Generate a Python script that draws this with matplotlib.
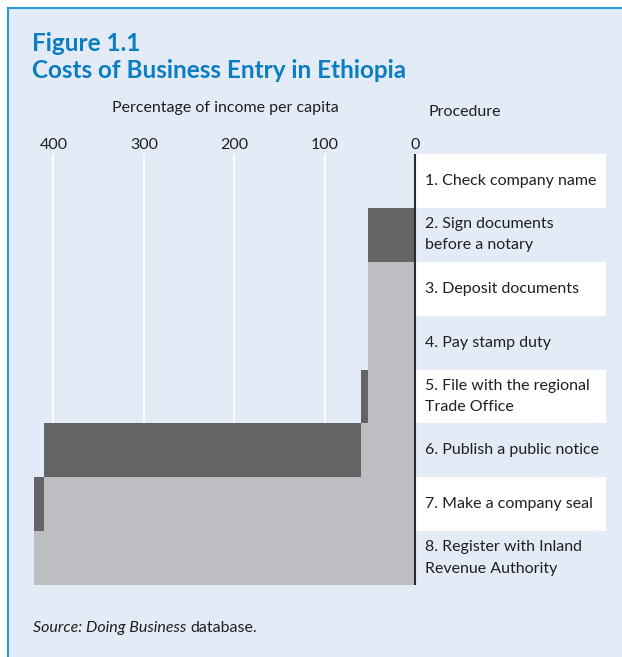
import matplotlib
matplotlib.use("Agg")
import matplotlib.pyplot as plt
from matplotlib.patches import Rectangle
from matplotlib.lines import Line2D

# ---- data ----
procedures = [
    "1. Check company name",
    "2. Sign documents\nbefore a notary",
    "3. Deposit documents",
    "4. Pay stamp duty",
    "5. File with the regional\nTrade Office",
    "6. Publish a public notice",
    "7. Make a company seal",
    "8. Register with Inland\nRevenue Authority",
]
step_cost = [0, 52.3, 0, 0, 7.4, 350.7, 11.1, 0]   # % of income per capita
ticks = [400, 300, 200, 100, 0]

FONT = "Lato"
plt.rcParams["font.family"] = [FONT, "DejaVu Sans"]

W, H = 622, 657
fig = plt.figure(figsize=(W / 100, H / 100), dpi=100)
fig.patch.set_facecolor("white")

BG = "#E3EBF6"
BLUE = "#0B7DC2"
DARK = "#646466"
LIGHT = "#BDBEC2"
TXT = "#231F20"

def fx(px):
    return px / W

def fy(py):
    return 1 - py / H

# background panel with blue top/left border
fig.patches.append(Rectangle((fx(8), 0), 1 - fx(8), fy(8), transform=fig.transFigure,
                             facecolor=BG, edgecolor="none", zorder=-5))
fig.lines.append(Line2D([fx(8), fx(8)], [0, fy(8)], transform=fig.transFigure,
                        color="#2A9AD8", lw=1.5, zorder=-4))
fig.lines.append(Line2D([fx(8), 1], [fy(8), fy(8)], transform=fig.transFigure,
                        color="#2A9AD8", lw=1.5, zorder=-4))

# axes geometry (pixels)
x0_px, scale = 415.0, 0.904       # px of value 0, px per unit
left_px, right_px = 20, 606
top_px, bot_px = 154, 585
ax = fig.add_axes([fx(left_px), fy(bot_px), fx(right_px - left_px), (bot_px - top_px) / H])
ax.set_facecolor("none")
ax.set_zorder(1)
xl = (x0_px - left_px) / scale
xr = -(right_px - x0_px) / scale
ax.set_xlim(xl, xr)
n = len(procedures)
ax.set_ylim(n, 0)
for s in ax.spines.values():
    s.set_visible(False)

# grid lines
for t in ticks[:-1]:
    ax.plot([t, t], [0, n], color="white", lw=1.3, zorder=1)

# label boxes
for i in range(n):
    if i % 2 == 0:
        ax.add_patch(Rectangle((0, i), xr, 1, facecolor="white", edgecolor="none", zorder=1))
    ax.text(-11, i + 0.5, procedures[i], ha="left", va="center", fontsize=11.5,
            color=TXT, linespacing=1.65, zorder=5)

# bars
cum = 0.0
for i, c in enumerate(step_cost):
    if cum > 0:
        ax.barh(i + 0.5, cum, height=1.0, left=0, color=LIGHT, zorder=2)
    if c > 0:
        ax.barh(i + 0.5, c, height=1.0, left=cum, color=DARK, zorder=3)
    cum += c

# zero axis line
ax.plot([0, 0], [0, n], color="#2B2B2B", lw=1.5, zorder=4)

# ticks on top
ax.xaxis.tick_top()
ax.set_xticks(ticks)
ax.set_xticklabels([str(t) for t in ticks], fontsize=11.5, color=TXT)
ax.tick_params(axis="x", length=0, pad=1.5)
ax.set_yticks([])

# titles
fig.text(fx(32), fy(51), "Figure 1.1", fontsize=17.5, fontweight="bold", color=BLUE,
         ha="left", va="baseline")
fig.text(fx(32), fy(78.5), "Costs of Business Entry in Ethiopia", fontsize=17.5,
         fontweight="bold", color=BLUE, ha="left", va="baseline")
fig.text(fx(225), fy(108), "Percentage of income per capita", fontsize=11.5, color=TXT,
         ha="center", va="center")
fig.text(fx(428), fy(112), "Procedure", fontsize=11.5, color=TXT, ha="left", va="center")

# source
t1 = fig.text(fx(33), fy(628), "Source: Doing Business", fontsize=11.5, style="italic",
              color=TXT, ha="left", va="center")
fig.canvas.draw()
bb = t1.get_window_extent(renderer=fig.canvas.get_renderer())
fig.text(bb.x1 / W + fx(4), fy(628), "database.", fontsize=11.5, color=TXT,
         ha="left", va="center")

fig.savefig("out.png", dpi=100, facecolor=fig.get_facecolor())
